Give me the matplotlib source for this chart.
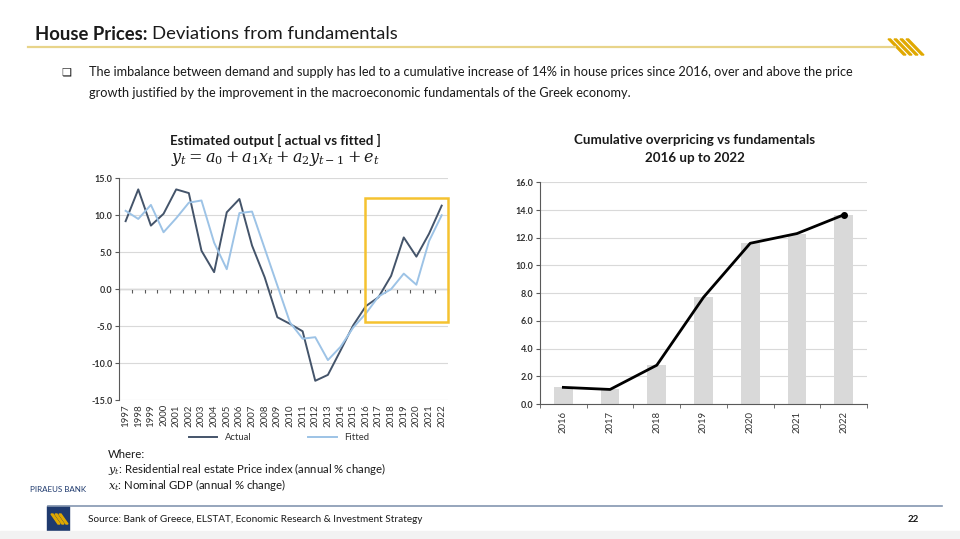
import matplotlib
matplotlib.use("Agg")
import matplotlib.pyplot as plt
from matplotlib.patches import Rectangle, Polygon
import numpy as np

plt.rcParams['font.family'] = ['Lato', 'DejaVu Sans']
plt.rcParams['mathtext.fontset'] = 'dejavuserif'

# ---------------- data ----------------
years = ['1997', '1998', '1999', '2000', '2001', '2002', '2003', '2004', '2005',
         '2006', '2007', '2008', '2009', '2010', '2011', '2012', '2013', '2014',
         '2015', '2016', '2017', '2018', '2019', '2020', '2021', '2022']
actual = [9.2, 13.5, 8.6, 10.2, 13.5, 13.0, 5.2, 2.3, 10.4, 12.2, 5.9, 1.6,
          -3.8, -4.7, -5.7, -12.4, -11.6, -8.3, -4.9, -2.3, -1.1, 1.8, 7.0,
          4.4, 7.5, 11.3]
fitted = [10.6, 9.5, 11.4, 7.7, 9.6, 11.7, 12.0, 6.3, 2.7, 10.3, 10.5, 5.5,
          0.5, -4.5, -6.7, -6.5, -9.6, -7.8, -5.2, -3.3, -1.0, 0.0, 2.1, 0.6,
          6.5, 10.0]
left_yticks = [-15, -10, -5, 0, 5, 10, 15]
highlight_start = '2016'
highlight_range = (-4.45, 12.4)

cum_years = ['2016', '2017', '2018', '2019', '2020', '2021', '2022']
cum_overpricing = [1.2, 1.05, 2.8, 7.7, 11.6, 12.3, 13.65]
right_yticks = [0, 2, 4, 6, 8, 10, 12, 14, 16]

# ---------------- figure ----------------
W, H = 960, 539
fig = plt.figure(figsize=(W / 100, H / 100), dpi=100)
fig.patch.set_facecolor('white')

def fx(px):
    return px / W

def fy(py):
    return 1 - py / H

TXT = '#1a1a1a'
AX = '#595959'

# header
fig.text(fx(35), fy(34), 'House Prices:', fontsize=13.3, fontweight='bold',
         color=TXT, va='center', ha='left')
fig.text(fx(152), fy(34), 'Deviations from fundamentals', fontsize=13.3,
         color=TXT, va='center', ha='left')
fig.add_artist(plt.Line2D([fx(28), fx(895)], [fy(47), fy(47)],
                          color='#e8d48a', lw=1.6, transform=fig.transFigure))
# stripes logo
for i in range(4):
    x0 = 888 + i * 6
    fig.add_artist(Polygon([[fx(x0), fy(39)], [fx(x0 + 2.5), fy(39)],
                            [fx(x0 + 18), fy(55)], [fx(x0 + 15.5), fy(55)]],
                           closed=True, color='#e0a800',
                           transform=fig.transFigure))

fig.text(fx(61), fy(72), '\u274f', fontsize=8, color=TXT, va='center',
         ha='left', family=['DejaVu Sans'])
fig.text(fx(89), fy(72),
         'The imbalance between demand and supply has led to a cumulative increase of 14% in house prices since 2016, over and above the price',
         fontsize=9.2, color=TXT, va='center', ha='left')
fig.text(fx(89), fy(93),
         'growth justified by the improvement in the macroeconomic fundamentals of the Greek economy.',
         fontsize=9.2, color=TXT, va='center', ha='left')

# ---------------- left chart ----------------
axL = fig.add_axes([fx(119.3), fy(400), fx(448 - 119.3), (400 - 178.3) / H])
x = np.arange(len(years))
axL.set_xlim(-0.5, len(years) - 0.5)
axL.set_ylim(-15, 15)
axL.set_yticks(left_yticks)
axL.set_yticklabels([f'{v:.1f}' for v in left_yticks], fontsize=6.5,
                    fontweight='bold', color='#333333')
axL.yaxis.grid(True, color='#d9d9d9', lw=0.8)
axL.set_axisbelow(True)
for s in ['top', 'right', 'bottom']:
    axL.spines[s].set_visible(False)
axL.spines['left'].set_color(AX)
axL.tick_params(axis='y', length=3, color=AX, pad=2)
axL.set_xticks(x)
axL.set_xticklabels(years, rotation=90, fontsize=7, color='#333333')
axL.tick_params(axis='x', length=0, pad=3)
sec = axL.secondary_xaxis(0.5)
sec.set_xticks(np.arange(len(years) + 1) - 0.5)
sec.set_xticklabels([])
sec.spines['bottom'].set_color(AX)
sec.tick_params(axis='x', length=3, color=AX, direction='in')

lA, = axL.plot(x, actual, color='#44546a', lw=1.4, label='Actual')
lF, = axL.plot(x, fitted, color='#9dc3e6', lw=1.4, label='Fitted')
i0 = years.index(highlight_start)
axL.add_patch(Rectangle((i0 - 0.05, highlight_range[0]),
                        len(years) - 0.5 - (i0 - 0.05),
                        highlight_range[1] - highlight_range[0],
                        fill=False, edgecolor='#f5c230', lw=1.8,
                        clip_on=False, zorder=5))

fig.legend(handles=[lA, lF], labels=['Actual', 'Fitted'], loc='center',
           bbox_to_anchor=(fx(279), fy(438)), ncol=2, frameon=False,
           fontsize=6.8, handlelength=3, columnspacing=6, labelcolor='#333333')

fig.text(fx(275), fy(140), 'Estimated output [ actual vs fitted ]',
         fontsize=9.6, fontweight='bold', color=TXT, ha='center', va='center')
fig.text(fx(275), fy(158), r'$y_t = a_0 + a_1x_t + a_2y_{t-1} + e_t$',
         fontsize=11.5, color=TXT, ha='center', va='center')

fig.text(fx(108), fy(455), 'Where:', fontsize=8.2, color=TXT, va='center')
fig.text(fx(108), fy(469), r'$y_t$' + ': Residential real estate Price index (annual % change)',
         fontsize=8.2, color=TXT, va='center')
fig.text(fx(108), fy(485), r'$x_t$' + ': Nominal GDP (annual % change)',
         fontsize=8.2, color=TXT, va='center')

# ---------------- right chart ----------------
axR = fig.add_axes([fx(540), fy(404), fx(867 - 540), (404 - 182.3) / H])
xr = np.arange(len(cum_years))
axR.set_xlim(-0.5, len(cum_years) - 0.5)
axR.set_ylim(0, 16)
axR.bar(xr, cum_overpricing, width=0.4, color='#d9d9d9', zorder=2)
axR.plot(xr, cum_overpricing, color='black', lw=2, zorder=3)
axR.plot(xr[-1:], cum_overpricing[-1:], marker='o', color='black', ms=4,
         zorder=4)
axR.set_yticks(right_yticks)
axR.set_yticklabels([f'{v:.1f}' for v in right_yticks], fontsize=6.5,
                    fontweight='bold', color='#333333')
axR.yaxis.grid(True, color='#d9d9d9', lw=0.8)
axR.set_axisbelow(True)
for s in ['top', 'right']:
    axR.spines[s].set_visible(False)
axR.spines['left'].set_color(AX)
axR.spines['bottom'].set_color(AX)
axR.tick_params(axis='y', length=3, color=AX, pad=2)
axR.set_xticks(xr)
axR.set_xticklabels(cum_years, rotation=90, fontsize=6.8, color='#333333')
axR.tick_params(axis='x', length=0, pad=5)
axR.set_xticks(np.arange(len(cum_years) + 1) - 0.5, minor=True)
axR.tick_params(axis='x', which='minor', length=3, color=AX)

fig.text(fx(695), fy(140), 'Cumulative overpricing vs fundamentals',
         fontsize=9.6, fontweight='bold', color=TXT, ha='center', va='center')
fig.text(fx(695), fy(158), '2016 up to 2022',
         fontsize=9.6, fontweight='bold', color=TXT, ha='center', va='center')

# ---------------- footer ----------------
fig.text(fx(30), fy(490), 'PIRAEUS BANK', fontsize=5.8, color='#1f3a6e',
         va='center', ha='left')
fig.add_artist(plt.Line2D([fx(48), fx(942)], [fy(506), fy(506)],
                          color='#8496b0', lw=1.2, transform=fig.transFigure))
fig.add_artist(Rectangle((fx(47), fy(531)), fx(22), 25 / H, color='#1f3a6e',
                         transform=fig.transFigure))
for i in range(3):
    x0 = 51 + i * 4
    fig.add_artist(Polygon([[fx(x0), fy(514)], [fx(x0 + 2), fy(514)],
                            [fx(x0 + 9), fy(524)], [fx(x0 + 7), fy(524)]],
                           closed=True, color='#e0a800',
                           transform=fig.transFigure))
fig.text(fx(88), fy(519),
         'Source: Bank of Greece, ELSTAT, Economic Research & Investment Strategy',
         fontsize=7.2, color=TXT, va='center', ha='left')
fig.text(fx(919), fy(519), '22', fontsize=7, fontweight='bold', color=TXT,
         va='center', ha='right')
fig.add_artist(Rectangle((0, 0), 1, 8 / H, color='#f2f2f2',
                         transform=fig.transFigure))

fig.savefig('out.png', dpi=100)
